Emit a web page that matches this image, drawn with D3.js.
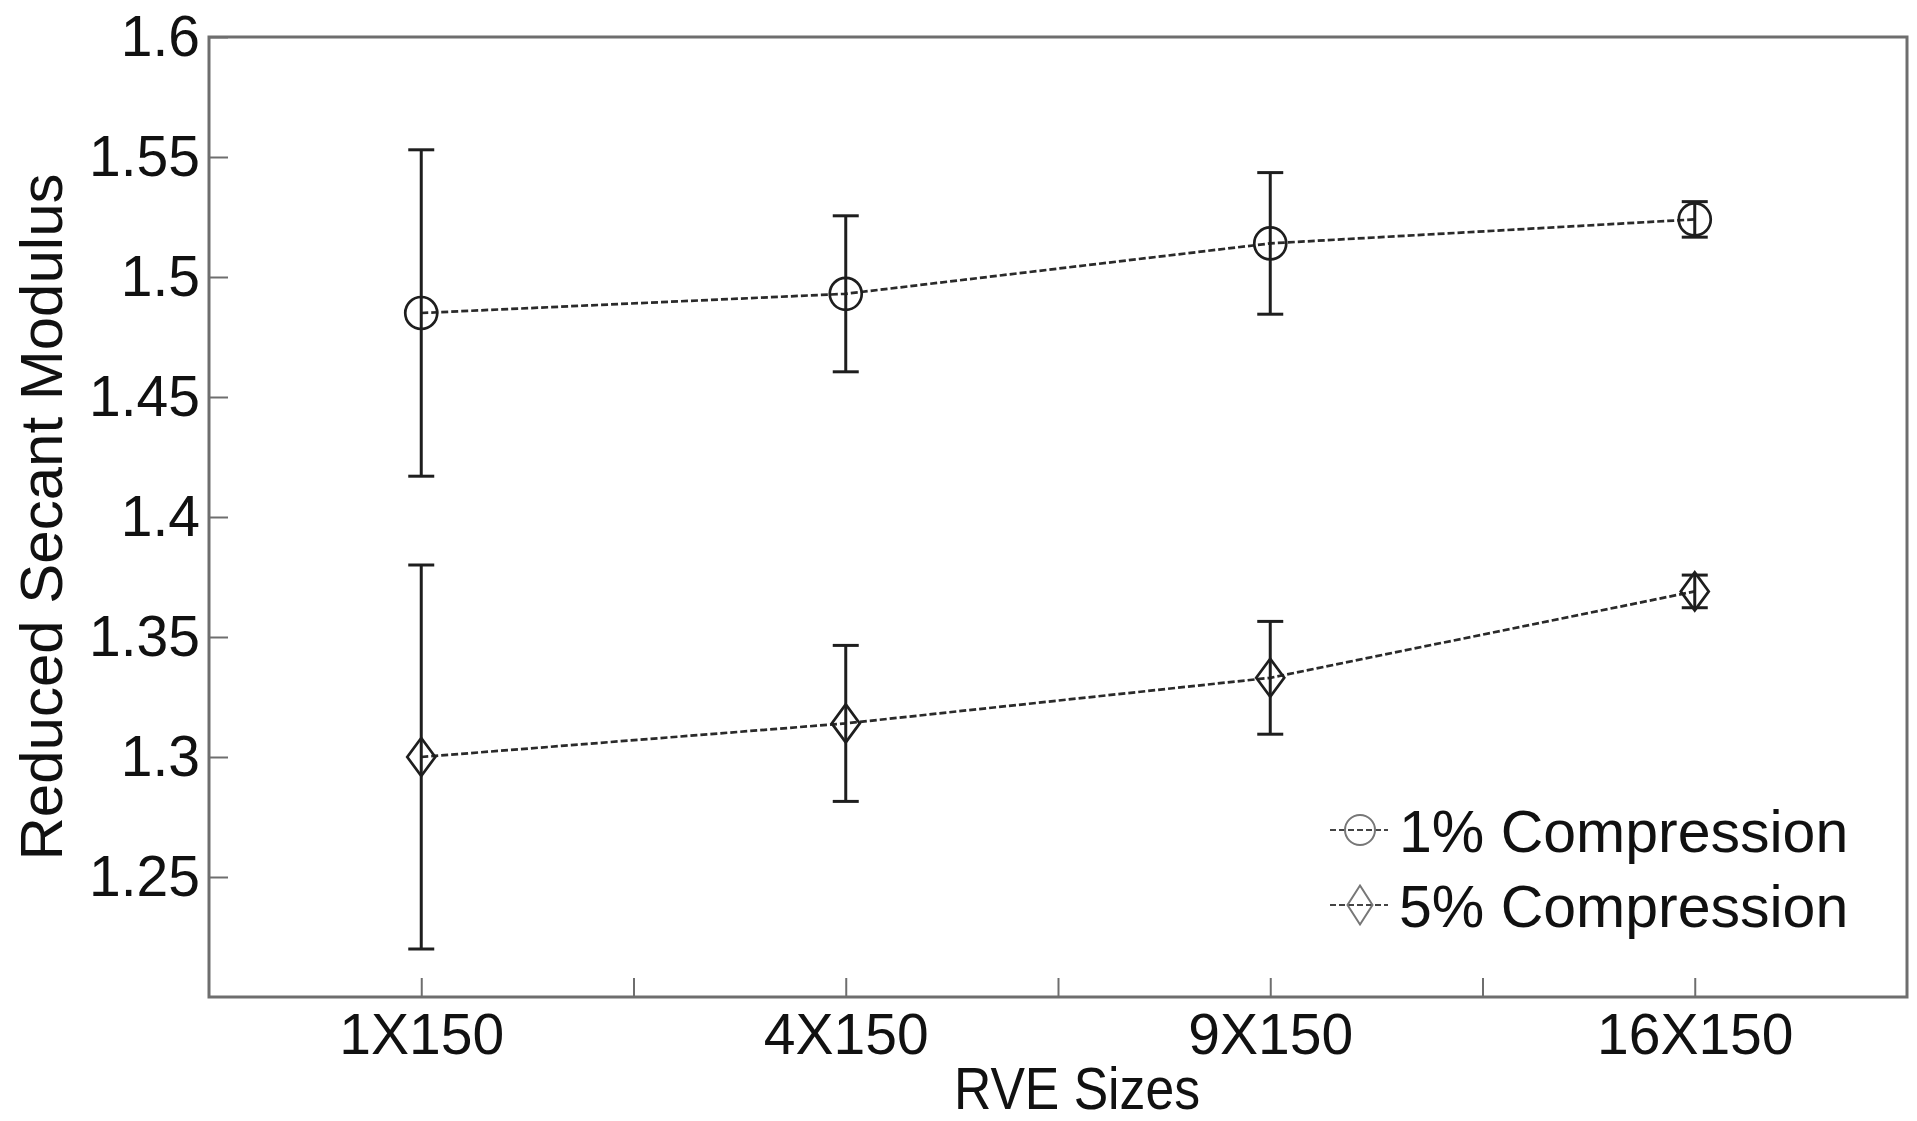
<!DOCTYPE html>
<html>
<head>
<meta charset="utf-8">
<script src="https://cdn.jsdelivr.net/npm/d3@7"></script>
<style>
  html, body { margin: 0; padding: 0; background: #fff; }
  svg { display: block; }
  text { font-family: "Liberation Sans", Arial, sans-serif; fill: #111; }
</style>
</head>
<body>
<svg id="chart" width="1917" height="1121"></svg>
<script>
// RVE sizes on the x axis
const categories = ["1X150", "4X150", "9X150", "16X150"];

// Reduced secant modulus, mean and error half-width per RVE size
const compression1 = [1.485, 1.493, 1.514, 1.524];
const compression1Err = [0.068, 0.0325, 0.0295, 0.0074];
const compression5 = [1.300, 1.314, 1.333, 1.369];
const compression5Err = [0.080, 0.0325, 0.0235, 0.0068];

const seriesNames = ["1% Compression", "5% Compression"];
const yTickValues = [1.25, 1.3, 1.35, 1.4, 1.45, 1.5, 1.55, 1.6];
const yTickLabels = ["1.25", "1.3", "1.35", "1.4", "1.45", "1.5", "1.55", "1.6"];

const svg = d3.select("#chart");
const W = 1917, H = 1121;
const plot = { left: 209, right: 1907, top: 37, bottom: 997 };

svg.append("rect").attr("width", W).attr("height", H).attr("fill", "#fff");

const x = d3.scaleLinear().domain([0.5, categories.length + 0.5]).range([plot.left, plot.right]);
const y = d3.scaleLinear().domain([1.2, 1.6]).range([plot.bottom, plot.top]);

const axisColor = "#6e6e6e";

// Y axis: inward ticks, labels on the left
const yAxis = d3.axisLeft(y)
  .tickValues(yTickValues)
  .tickFormat((d, i) => yTickLabels[i])
  .tickSizeInner(-19)
  .tickSizeOuter(0)
  .tickPadding(9);
const gy = svg.append("g").attr("transform", `translate(${plot.left},0)`).call(yAxis);
gy.select(".domain").remove();
gy.selectAll(".tick line").attr("stroke", axisColor).attr("stroke-width", 2);
gy.selectAll(".tick text").attr("font-size", 57).attr("fill", "#111");

// X axis: category ticks plus unlabeled mid ticks
const xTickValues = d3.range(1, categories.length + 0.01, 0.5);
const xAxis = d3.axisBottom(x)
  .tickValues(xTickValues)
  .tickFormat(d => Number.isInteger(d) ? categories[d - 1] : "")
  .tickSizeInner(-19)
  .tickSizeOuter(0)
  .tickPadding(17);
const gx = svg.append("g").attr("transform", `translate(0,${plot.bottom})`).call(xAxis);
gx.select(".domain").remove();
gx.selectAll(".tick line").attr("stroke", axisColor).attr("stroke-width", 2);
gx.selectAll(".tick text").attr("font-size", 57).attr("fill", "#111");

// Axes box
svg.append("rect")
  .attr("x", plot.left).attr("y", plot.top)
  .attr("width", plot.right - plot.left).attr("height", plot.bottom - plot.top)
  .attr("fill", "none").attr("stroke", axisColor).attr("stroke-width", 3);

// Axis titles
svg.append("text")
  .attr("transform", `translate(62,${(plot.top + plot.bottom) / 2}) rotate(-90)`)
  .attr("text-anchor", "middle")
  .attr("font-size", 60)
  .text("Reduced Secant Modulus");

svg.append("text")
  .attr("x", 1077)
  .attr("y", 1109)
  .attr("text-anchor", "middle")
  .attr("font-size", 59)
  .attr("textLength", 246)
  .attr("lengthAdjust", "spacingAndGlyphs")
  .text("RVE Sizes");

// Marker shapes
const circlePath = (r) => `M${-r},0A${r},${r} 0 1,0 ${r},0A${r},${r} 0 1,0 ${-r},0Z`;
const diamondPath = (w, h) => `M0,${-h}L${w},0L0,${h}L${-w},0Z`;
const markers = [circlePath(16), diamondPath(14, 19)];

const series = [
  { name: seriesNames[0], values: compression1, errs: compression1Err },
  { name: seriesNames[1], values: compression5, errs: compression5Err }
];

const line = d3.line().x((d, i) => x(i + 1)).y(d => y(d));
const capHalf = 13;

series.forEach((s, si) => {
  const g = svg.append("g");
  // dashed connecting line
  g.append("path")
    .attr("d", line(s.values))
    .attr("fill", "none")
    .attr("stroke", "#2a2a2a")
    .attr("stroke-width", 2.7)
    .attr("stroke-dasharray", "7,3");

  // error bars
  s.values.forEach((v, i) => {
    const cx = x(i + 1);
    const y0 = y(v - s.errs[i]), y1 = y(v + s.errs[i]);
    const eb = g.append("g").attr("stroke", "#1e1e1e").attr("stroke-width", 3);
    eb.append("line").attr("x1", cx).attr("x2", cx).attr("y1", y0).attr("y2", y1);
    eb.append("line").attr("x1", cx - capHalf).attr("x2", cx + capHalf).attr("y1", y0).attr("y2", y0);
    eb.append("line").attr("x1", cx - capHalf).attr("x2", cx + capHalf).attr("y1", y1).attr("y2", y1);
  });

  // markers
  g.selectAll("path.marker")
    .data(s.values)
    .join("path")
    .attr("class", "marker")
    .attr("transform", (d, i) => `translate(${x(i + 1)},${y(d)})`)
    .attr("d", markers[si])
    .attr("fill", "none")
    .attr("stroke", "#1e1e1e")
    .attr("stroke-width", 2.7);
});

// Legend
const legend = svg.append("g");
const legendRows = [830, 905];
series.forEach((s, si) => {
  const ly = legendRows[si];
  legend.append("line")
    .attr("x1", 1330).attr("x2", 1388).attr("y1", ly).attr("y2", ly)
    .attr("stroke", "#444").attr("stroke-width", 2.2).attr("stroke-dasharray", "6,3");
  legend.append("path")
    .attr("transform", `translate(1360,${ly})`)
    .attr("d", si === 0 ? circlePath(15) : diamondPath(12.5, 19.5))
    .attr("fill", "none").attr("stroke", "#777").attr("stroke-width", 2);
  legend.append("text")
    .attr("x", 1399).attr("y", ly + 22)
    .attr("font-size", 59)
    .text(s.name);
});
</script>
</body>
</html>
